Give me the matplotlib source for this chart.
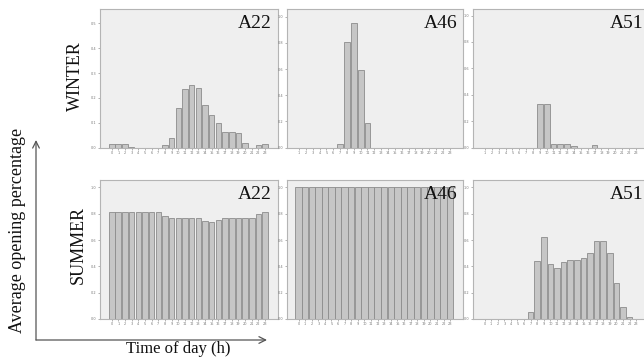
import numpy as np
import matplotlib
matplotlib.use("Agg")
import matplotlib.pyplot as plt

W, H = 644, 357

# ---------------------------------------------
# Data (average opening fraction per hour)
# ---------------------------------------------
hours_full = list(range(0, 24))
hours_from1 = list(range(1, 24))

winter_a22 = [0.014, 0.014, 0.014, 0.003, 0, 0, 0, 0, 0.01, 0.038, 0.16, 0.234,
              0.25, 0.24, 0.17, 0.132, 0.099, 0.064, 0.064, 0.058, 0.02, 0, 0.01, 0.016]
winter_a46 = [0, 0, 0, 0, 0, 0, 0.03, 0.81, 0.95, 0.59, 0.19, 0,
              0, 0, 0, 0, 0, 0, 0, 0, 0, 0, 0]
winter_a51 = [0, 0, 0, 0, 0, 0, 0, 0, 0.33, 0.33, 0.03, 0.03,
              0.03, 0.012, 0, 0, 0.018, 0, 0, 0, 0, 0, 0]

summer_a22 = [0.81, 0.81, 0.81, 0.81, 0.81, 0.81, 0.81, 0.81, 0.78, 0.77, 0.77, 0.77,
              0.77, 0.77, 0.745, 0.74, 0.75, 0.77, 0.77, 0.77, 0.77, 0.77, 0.80, 0.81]
summer_a46 = [1.0, 1.0, 1.0, 1.0, 1.0, 1.0, 1.0, 1.0, 1.0, 1.0, 1.0, 1.0,
              1.0, 1.0, 1.0, 1.0, 1.0, 1.0, 1.0, 1.0, 1.0, 1.0, 1.0, 1.0]
summer_a51 = [0, 0, 0, 0, 0, 0, 0, 0.056, 0.44, 0.625, 0.42, 0.39,
              0.43, 0.45, 0.45, 0.46, 0.50, 0.59, 0.59, 0.50, 0.27, 0.09, 0.018, 0]

panels = [
    # row, col, name, hours, values, ytop, ystep, bar width
    (0, 0, "A22", hours_full, winter_a22, 0.558, 0.1, 0.85),
    (0, 1, "A46", hours_from1, winter_a46, 1.06, 0.2, 0.85),
    (0, 2, "A51", hours_from1, winter_a51, 1.05, 0.2, 0.85),
    (1, 0, "A22", hours_full, summer_a22, 1.056, 0.2, 0.85),
    (1, 1, "A46", hours_full, summer_a46, 1.056, 0.2, 0.97),
    (1, 2, "A51", hours_full, summer_a51, 1.056, 0.2, 0.85),
]

rows_px = [(9, 147.5), (180, 319)]
cols_px = [(100, 278), (287, 463), (473, 649)]

SERIF = "Liberation Serif"

fig = plt.figure(figsize=(W / 100, H / 100), dpi=100)


def px_axes(x0, y0, x1, y1):
    return fig.add_axes([x0 / W, 1 - y1 / H, (x1 - x0) / W, (y1 - y0) / H])


for row, col, name, hrs, vals, ytop, ystep, bw in panels:
    x0, x1 = cols_px[col]
    y0, y1 = rows_px[row]
    ax = px_axes(x0, y0, x1, y1)
    ax.set_facecolor("#efefef")

    pos = np.arange(len(hrs))
    vals = np.array(vals)
    keep = vals > 0
    ax.bar(pos[keep], vals[keep], width=bw, color="#c6c6c6",
           edgecolor="#8c8c8c", linewidth=0.6)

    ax.set_xlim(-1.75, len(hrs) + 0.95)
    ax.set_ylim(0, ytop)
    ax.set_xticks(pos)
    ax.set_xticklabels([str(h) for h in hrs])
    yt = np.arange(0, ytop - 0.01, ystep)
    ax.set_yticks(yt)
    ax.set_yticklabels([f"{v:.1f}" for v in yt])
    ax.tick_params(labelsize=2.5, colors="#777777", length=1.5, width=0.4, pad=1)

    for s in ax.spines.values():
        s.set_color("#b4b4b4")
        s.set_linewidth(0.8)

    ax.text(1 - 6 / (x1 - x0), 1 - 6 / (y1 - y0), name, transform=ax.transAxes,
            ha="right", va="top", fontsize=14, family=SERIF, color="#111111")

# row labels
fig.text(75 / W, 1 - 76 / H, "WINTER", rotation=90, ha="center", va="center",
         fontsize=13, family=SERIF, color="#111111")
fig.text(78 / W, 1 - 245 / H, "SUMMER", rotation=90, ha="center", va="center",
         fontsize=13, family=SERIF, color="#111111")

# axis titles with arrows
fig.text(18 / W, 1 - 230 / H, "Average opening percentage", rotation=90,
         ha="center", va="center", fontsize=13, family=SERIF, color="#111111")
fig.text(178 / W, 1 - 349 / H, "Time of day (h)", ha="center", va="center",
         fontsize=12, family=SERIF, color="#111111")

arrow = dict(arrowstyle="->", color="#555555", lw=0.9, mutation_scale=12,
             shrinkA=0, shrinkB=0)
fig.add_artist(plt.Line2D([36 / W, 36 / W], [1 - 340 / H, 1 - 340 / H],
                          color="#555555"))
plt.annotate("", xy=(36, H - 140), xytext=(36, H - 340),
             xycoords="figure pixels", textcoords="figure pixels", arrowprops=arrow)
plt.annotate("", xy=(267, H - 340), xytext=(36, H - 340),
             xycoords="figure pixels", textcoords="figure pixels", arrowprops=arrow)

fig.savefig("out.png", dpi=100, facecolor="white")
